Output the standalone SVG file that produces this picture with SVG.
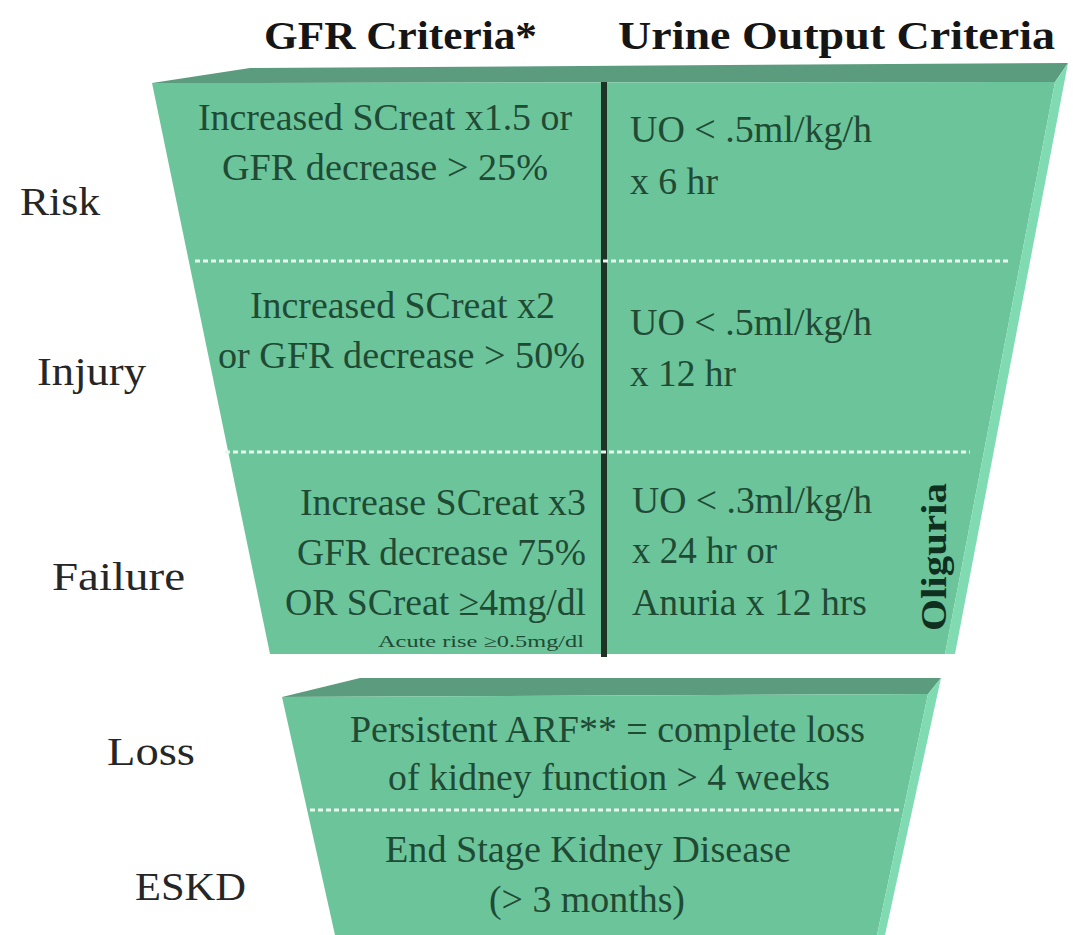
<svg xmlns="http://www.w3.org/2000/svg" width="1073" height="935" viewBox="0 0 1073 935">
<style>
.hdr{font-family:"Liberation Serif","Times New Roman",serif;font-weight:bold;font-size:40px;fill:#151515}
.lbl{font-family:"Liberation Serif","Times New Roman",serif;font-size:40px;fill:#262626}
.cell{font-family:"Liberation Serif","Times New Roman",serif;font-size:38px;fill:#1f4a34}
.small{font-family:"Liberation Serif","Times New Roman",serif;font-size:17px;fill:#1f4a34}
.olig{font-family:"Liberation Serif","Times New Roman",serif;font-weight:bold;font-size:36px;fill:#10301f}
.face{fill:#6cc49b}
.top{fill:#5c9c7e}
.side{fill:#80dbb2}
.dots{stroke:#e9f7ef;stroke-width:3;stroke-dasharray:5 3;fill:none}
</style>
<rect width="1073" height="935" fill="#ffffff"/>

<g id="headers">
<text class="hdr" x="264" y="49" textLength="273" lengthAdjust="spacingAndGlyphs">GFR Criteria*</text>
<text class="hdr" x="618" y="49" textLength="437" lengthAdjust="spacingAndGlyphs">Urine Output Criteria</text>
</g>

<g id="upper-funnel">
<polygon class="top" points="152,83 250,68 1068,63 1055,82"/>
<polygon class="face" points="152,83 1055,82 945,654 270,654"/>
<polygon class="side" points="1055,82 1068,63 955,654 945,654"/>
<line x1="604" y1="82" x2="604" y2="657" stroke="#1c3326" stroke-width="6"/>
<line class="dots" x1="195" y1="261" x2="1010" y2="261"/>
<line class="dots" x1="225" y1="452" x2="970" y2="452"/>
</g>

<g id="lower-funnel">
<polygon class="top" points="282,697 360,678 941,678 928,694"/>
<polygon class="face" points="282,697 928,694 877,935 335,935"/>
<polygon class="side" points="928,694 941,678 885,935 877,935"/>
<line class="dots" x1="310" y1="810" x2="902" y2="810"/>
</g>

<g id="row-risk">
<text class="lbl" x="20" y="215" textLength="80" lengthAdjust="spacingAndGlyphs">Risk</text>
<text class="cell" x="198" y="130" textLength="374" lengthAdjust="spacingAndGlyphs">Increased SCreat x1.5 or</text>
<text class="cell" x="222" y="180" textLength="326" lengthAdjust="spacingAndGlyphs">GFR decrease &gt; 25%</text>
<text class="cell" x="630" y="142" textLength="242" lengthAdjust="spacingAndGlyphs">UO &lt; .5ml/kg/h</text>
<text class="cell" x="630" y="194" textLength="88" lengthAdjust="spacingAndGlyphs">x 6 hr</text>
</g>

<g id="row-injury">
<text class="lbl" x="37" y="385" textLength="109" lengthAdjust="spacingAndGlyphs">Injury</text>
<text class="cell" x="250" y="318" textLength="305" lengthAdjust="spacingAndGlyphs">Increased SCreat x2</text>
<text class="cell" x="218" y="368" textLength="367" lengthAdjust="spacingAndGlyphs">or GFR decrease &gt; 50%</text>
<text class="cell" x="630" y="335" textLength="242" lengthAdjust="spacingAndGlyphs">UO &lt; .5ml/kg/h</text>
<text class="cell" x="630" y="386" textLength="106" lengthAdjust="spacingAndGlyphs">x 12 hr</text>
</g>

<g id="row-failure">
<text class="lbl" x="52" y="590" textLength="133" lengthAdjust="spacingAndGlyphs">Failure</text>
<text class="cell" x="300" y="515" textLength="286" lengthAdjust="spacingAndGlyphs">Increase SCreat x3</text>
<text class="cell" x="297" y="565" textLength="289" lengthAdjust="spacingAndGlyphs">GFR decrease 75%</text>
<text class="cell" x="285" y="615" textLength="301" lengthAdjust="spacingAndGlyphs">OR SCreat ≥4mg/dl</text>
<text class="small" x="378" y="647" textLength="206" lengthAdjust="spacingAndGlyphs">Acute rise ≥0.5mg/dl</text>
<text class="cell" x="632" y="513" textLength="240" lengthAdjust="spacingAndGlyphs">UO &lt; .3ml/kg/h</text>
<text class="cell" x="632" y="563" textLength="145" lengthAdjust="spacingAndGlyphs">x 24 hr or</text>
<text class="cell" x="632" y="615" textLength="235" lengthAdjust="spacingAndGlyphs">Anuria x 12 hrs</text>
<text class="olig" transform="translate(946,557) rotate(-90)" text-anchor="middle" textLength="148" lengthAdjust="spacingAndGlyphs">Oliguria</text>
</g>

<g id="row-loss">
<text class="lbl" x="107" y="765" textLength="88" lengthAdjust="spacingAndGlyphs">Loss</text>
<text class="cell" x="350" y="742" textLength="515" lengthAdjust="spacingAndGlyphs">Persistent ARF** = complete loss</text>
<text class="cell" x="388" y="790" textLength="442" lengthAdjust="spacingAndGlyphs">of kidney function &gt; 4 weeks</text>
</g>

<g id="row-eskd">
<text class="lbl" x="135" y="900" textLength="111" lengthAdjust="spacingAndGlyphs">ESKD</text>
<text class="cell" x="385" y="862" textLength="406" lengthAdjust="spacingAndGlyphs">End Stage Kidney Disease</text>
<text class="cell" x="489" y="912" textLength="196" lengthAdjust="spacingAndGlyphs">(&gt; 3 months)</text>
</g>

<g id="connectors"></g>
</svg>
